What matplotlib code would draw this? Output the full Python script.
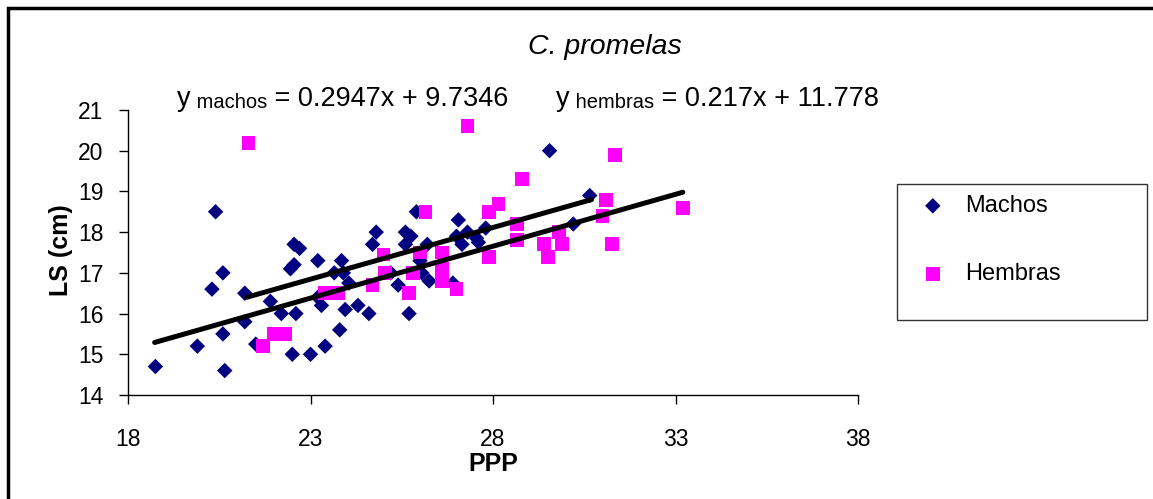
import matplotlib
matplotlib.use("Agg")
import matplotlib.pyplot as plt
from matplotlib.patches import Rectangle

plt.rcParams['font.family'] = ['Liberation Sans', 'DejaVu Sans']

# Machos (PPP, LS)
machos_x = [18.75, 19.9, 20.6, 20.65, 20.4, 20.6, 20.3, 21.2, 21.2, 21.5,
            21.9, 22.2, 22.6, 22.5, 23.0, 22.55, 22.7, 22.45, 22.55, 23.2,
            23.85, 23.65, 23.9, 24.05, 23.2, 23.3, 23.95, 24.3, 24.6, 23.8,
            23.4, 24.7, 24.8, 25.4, 25.7, 26.25, 26.05, 25.2, 25.6, 25.75,
            25.6, 25.9, 27.05, 27.0, 27.3, 27.55, 27.15, 26.2, 26.0, 26.9,
            27.6, 27.8, 29.55, 30.65, 30.2]
machos_y = [14.7, 15.2, 15.5, 14.6, 18.5, 17.0, 16.6, 16.5, 15.8, 15.25,
            16.3, 16.0, 16.0, 15.0, 15.0, 17.7, 17.6, 17.1, 17.2, 17.3,
            17.3, 17.0, 17.0, 16.75, 16.4, 16.2, 16.1, 16.2, 16.0, 15.6,
            15.2, 17.7, 18.0, 16.7, 16.0, 16.8, 17.0, 17.0, 18.0, 17.9,
            17.7, 18.5, 18.3, 17.9, 18.0, 17.85, 17.7, 17.7, 17.3, 16.75,
            17.75, 18.1, 20.0, 18.9, 18.2]

# Hembras (PPP, LS)
hembras_x = [21.3, 21.7, 22.0, 22.3, 23.4, 23.75, 24.7, 25.0, 25.05, 25.7,
             25.8, 26.0, 26.15, 26.6, 26.6, 26.6, 27.0, 27.3, 27.9, 27.9,
             28.15, 28.65, 28.65, 28.8, 29.4, 29.5, 29.8, 29.9, 31.0, 31.1,
             31.25, 31.35, 33.2]
hembras_y = [20.2, 15.2, 15.5, 15.5, 16.5, 16.5, 16.7, 17.45, 17.0, 16.5,
             17.0, 17.5, 18.5, 17.5, 17.1, 16.8, 16.6, 20.6, 18.5, 17.4,
             18.7, 18.2, 17.8, 19.3, 17.7, 17.4, 18.0, 17.7, 18.4, 18.8,
             17.7, 19.9, 18.6]

# trend lines as drawn in the chart (end points)
trend_long_x = [18.73, 33.2]
trend_long_y = [15.29, 18.98]
trend_short_x = [21.25, 30.7]
trend_short_y = [16.4, 18.8]

x_ticks = [18, 23, 28, 33, 38]
y_ticks = [14, 15, 16, 17, 18, 19, 20, 21]

W, H = 1153, 499
fig = plt.figure(figsize=(W / 100, H / 100), dpi=100)
ax = fig.add_axes([128 / W, 1 - 395 / H, (858 - 128) / W, (395 - 110) / H])

ax.scatter(machos_x, machos_y, marker='D', s=62, color='#000080',
           edgecolors='none', label='Machos', zorder=3)
ax.scatter(hembras_x, hembras_y, marker='s', s=100, color='#FF00FF',
           edgecolors='none', label='Hembras', zorder=3)
ax.plot(trend_long_x, trend_long_y, color='black', lw=3.6,
        solid_capstyle='round', zorder=4)
ax.plot(trend_short_x, trend_short_y, color='black', lw=3.6,
        solid_capstyle='round', zorder=4)

ax.set_xlim(18, 38)
ax.set_ylim(14, 21)
ax.set_xticks(x_ticks)
ax.set_yticks(y_ticks)
ax.tick_params(labelsize=16.5, length=6.5, width=1, direction='out')
ax.tick_params(axis='y', pad=11)
ax.tick_params(axis='x', pad=17)
ax.spines['top'].set_visible(False)
ax.spines['right'].set_visible(False)
for s in ['left', 'bottom']:
    ax.spines[s].set_linewidth(1)
ax.set_xlabel('PPP', fontsize=18, fontweight='bold', va='top')
ax.set_ylabel('LS (cm)', fontsize=18, fontweight='bold')
ax.xaxis.set_label_coords(0.5, (395 - 452) / 285)
ax.yaxis.set_label_coords((73 - 128) / 730, (395 - 250) / 285)

# title and equations
fig.text(605 / W, 1 - 47 / H, 'C. promelas', fontsize=20.5, style='italic',
         ha='center', va='center')


def equation(x_px, name, rest):
    t1 = fig.text(x_px / W, 1 - 112 / H, 'y', fontsize=19.5, va='bottom')
    t2 = ax.annotate(' ' + name, xy=(1, 0), xycoords=t1, fontsize=14.5,
                     va='bottom', annotation_clip=False)
    ax.annotate(' ' + rest, xy=(1, 0), xycoords=t2, fontsize=19.5,
                va='bottom', annotation_clip=False)


equation(177, 'machos', '= 0.2947x + 9.7346')
equation(556, 'hembras', '= 0.217x + 11.778')

# legend: frame drawn separately to match the wide Excel box
fig.patches.append(Rectangle((897 / W, 1 - 320 / H), 250 / W, 136 / H,
                             transform=fig.transFigure, fill=False,
                             lw=1, ec='#333333'))
leg = fig.legend(loc='upper left', bbox_to_anchor=(921 / W, 1 - 195 / H),
                 fontsize=17, frameon=False, borderpad=0,
                 labelspacing=1.95, handlelength=1.0, handletextpad=0.86,
                 borderaxespad=0, scatterpoints=1)

# outer border of the chart
fig.patches.append(Rectangle((8 / W, -0.1), 1.2, 1 - 8 / H + 0.1,
                             transform=fig.transFigure, fill=False,
                             lw=2.5, ec='black'))

fig.savefig('out.png', dpi=100)
